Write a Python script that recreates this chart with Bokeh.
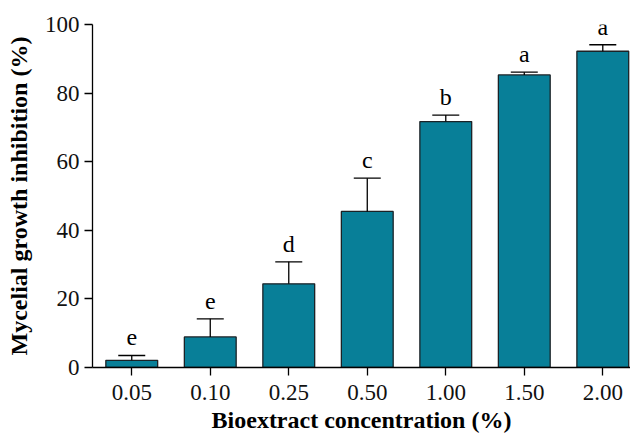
from bokeh.plotting import figure
from bokeh.models import (ColumnDataSource, FixedTicker, Range1d, Whisker,
                          TeeHead, LabelSet, Title)
from bokeh.embed import file_html
from bokeh.resources import INLINE

# ---- data ----
categories = ["0.05", "0.10", "0.25", "0.50", "1.00", "1.50", "2.00"]
inhibition = [2.1, 8.9, 24.4, 45.5, 71.7, 85.3, 92.2]
sd = [1.4, 5.3, 6.4, 9.7, 1.9, 0.8, 1.9]
letters = ["e", "e", "d", "c", "b", "a", "a"]
y_ticks = [0, 20, 40, 60, 80, 100]
x_title = "Bioextract concentration (%)"
y_title = "Mycelial growth inhibition (%)"

xpos = list(range(len(categories)))
upper = [v + e for v, e in zip(inhibition, sd)]

src = ColumnDataSource(dict(x=xpos, cat=categories, val=inhibition,
                            upper=upper, letter=letters))

SERIF = "Liberation Serif"
BAR = "#087f98"

x_range = Range1d(-0.5, 6.353)
y_range = Range1d(0, 100)
p = figure(width=630, height=434, output_backend="svg", toolbar_location=None,
           x_range=x_range, y_range=y_range,
           min_border_left=92, min_border_right=0, min_border_top=24,
           min_border_bottom=66)
p.outline_line_color = None
p.xgrid.visible = False
p.ygrid.visible = False

p.vbar(x="x", top="val", bottom=0, width=0.66, source=src,
       fill_color=BAR, line_color="#1b2226", line_width=1.3)

w = Whisker(base="x", lower="val", upper="upper", source=src,
            lower_head=None,
            upper_head=TeeHead(size=27, line_color="black", line_width=1.3),
            line_color="black", line_width=1.3, level="overlay")
p.add_layout(w)

labels = LabelSet(x="x", y="upper", text="letter", source=src,
                  y_offset=10, text_align="center", text_baseline="alphabetic",
                  text_font=SERIF, text_font_size="24px", text_color="black")
p.add_layout(labels)

for ax in (p.xaxis[0], p.yaxis[0]):
    ax.axis_line_width = 1.3
    ax.axis_line_color = "black"
    ax.major_tick_line_width = 1.3
    ax.major_tick_line_color = "black"
    ax.major_tick_out = 8
    ax.major_tick_in = 0
    ax.minor_tick_line_color = None
    ax.major_label_text_font = SERIF
    ax.major_label_text_font_size = "23px"
    ax.major_label_text_color = "#111111"
    ax.axis_label_text_font = SERIF
    ax.axis_label_text_font_size = "24px"
    ax.axis_label_text_font_style = "bold"
    ax.axis_label_text_color = "black"

p.xaxis.ticker = FixedTicker(ticks=xpos)
p.xaxis.major_label_overrides = {i: c for i, c in zip(xpos, categories)}
p.xaxis.major_label_standoff = 9

# x-axis title as a title panel below the axis
p.add_layout(Title(text=x_title, align="center", standoff=4,
                   text_font=SERIF, text_font_size="24px",
                   text_font_style="bold", text_color="black"), "below")

p.yaxis.ticker = FixedTicker(ticks=y_ticks)
p.yaxis.major_label_standoff = 5
p.yaxis.axis_label = y_title
p.yaxis.axis_label_standoff = 10

open("out.html", "w").write(file_html(p, INLINE))
